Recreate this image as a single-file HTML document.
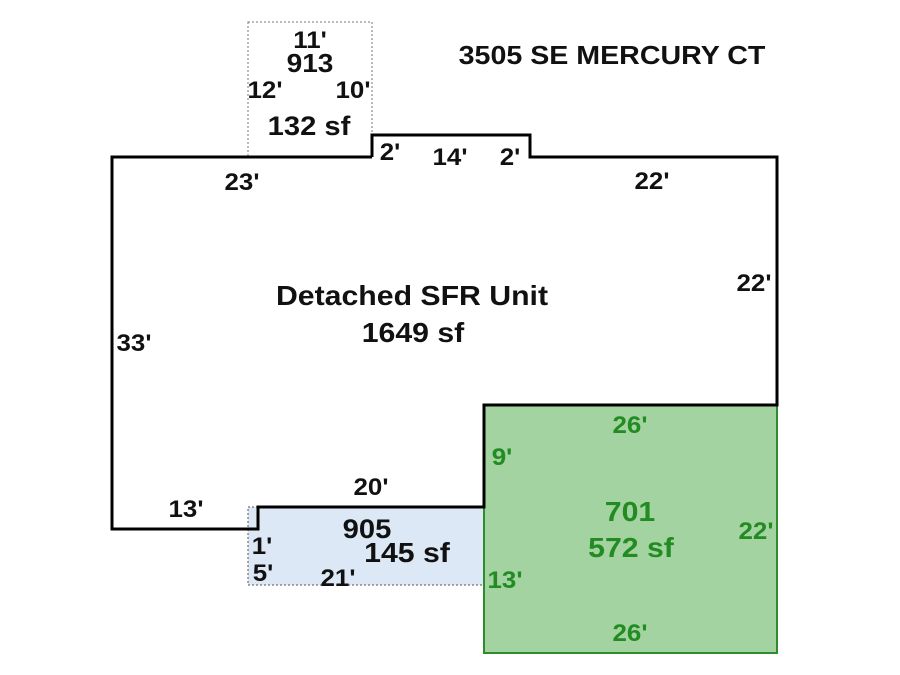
<!DOCTYPE html>
<html><head><style>html,body{margin:0;padding:0;background:#fff}svg{display:block}text{font-family:"Liberation Sans",Arial,sans-serif;font-weight:bold}</style></head>
<body>
<svg width="900" height="675" viewBox="0 0 900 675" xmlns="http://www.w3.org/2000/svg">
<rect x="248" y="22" width="124" height="135" fill="#fff" stroke="#777" stroke-width="1" stroke-dasharray="2,2"/>
<rect x="248" y="507" width="236" height="78" fill="#dce8f5" stroke="#555" stroke-width="1" stroke-dasharray="2,2"/>
<rect x="484" y="405" width="293" height="248" fill="#a3d3a0" stroke="#2e8b2e" stroke-width="2"/>
<polyline points="372,157 112,157 112,529 258,529 258,507 484,507 484,405 777,405 777,157 530,157 530,135 372,135 372,157" fill="none" stroke="#000" stroke-width="3"/>
<g font-size="24" fill="#111" text-anchor="middle">
<text transform="translate(310,48) scale(1.08,1)">11'</text>
<text transform="translate(310,72) scale(1.08,1)" font-size="26">913</text>
<text transform="translate(265,98) scale(1.08,1)">12'</text>
<text transform="translate(353,98) scale(1.08,1)">10'</text>
<text transform="translate(309,135) scale(1.08,1)" font-size="27">132 sf</text>
<text transform="translate(612,64) scale(1.1,1)" font-size="26">3505 SE MERCURY CT</text>
<text transform="translate(390,160) scale(1.08,1)">2'</text>
<text transform="translate(450,165) scale(1.08,1)">14'</text>
<text transform="translate(510,165) scale(1.08,1)">2'</text>
<text transform="translate(242,190) scale(1.08,1)">23'</text>
<text transform="translate(652,189) scale(1.08,1)">22'</text>
<text transform="translate(754,291) scale(1.08,1)">22'</text>
<text transform="translate(134,351) scale(1.08,1)">33'</text>
<text transform="translate(412,305) scale(1.08,1)" font-size="28">Detached SFR Unit</text>
<text transform="translate(413,342) scale(1.08,1)" font-size="28">1649 sf</text>
<text transform="translate(371,495) scale(1.08,1)">20'</text>
<text transform="translate(186,517) scale(1.08,1)">13'</text>
<text transform="translate(367,538) scale(1.08,1)" font-size="27">905</text>
<text transform="translate(407,562) scale(1.08,1)" font-size="28">145 sf</text>
<text transform="translate(262,554) scale(1.08,1)">1'</text>
<text transform="translate(263,581) scale(1.08,1)">5'</text>
<text transform="translate(338,586) scale(1.08,1)">21'</text>
</g>
<g font-size="24" fill="#228b22" text-anchor="middle">
<text transform="translate(630,433) scale(1.08,1)">26'</text>
<text transform="translate(502,465) scale(1.08,1)">9'</text>
<text transform="translate(630,521) scale(1.08,1)" font-size="28">701</text>
<text transform="translate(631,557) scale(1.08,1)" font-size="28">572 sf</text>
<text transform="translate(756,539) scale(1.08,1)">22'</text>
<text transform="translate(505,588) scale(1.08,1)">13'</text>
<text transform="translate(630,641) scale(1.08,1)">26'</text>
</g>
</svg>
</body></html>
